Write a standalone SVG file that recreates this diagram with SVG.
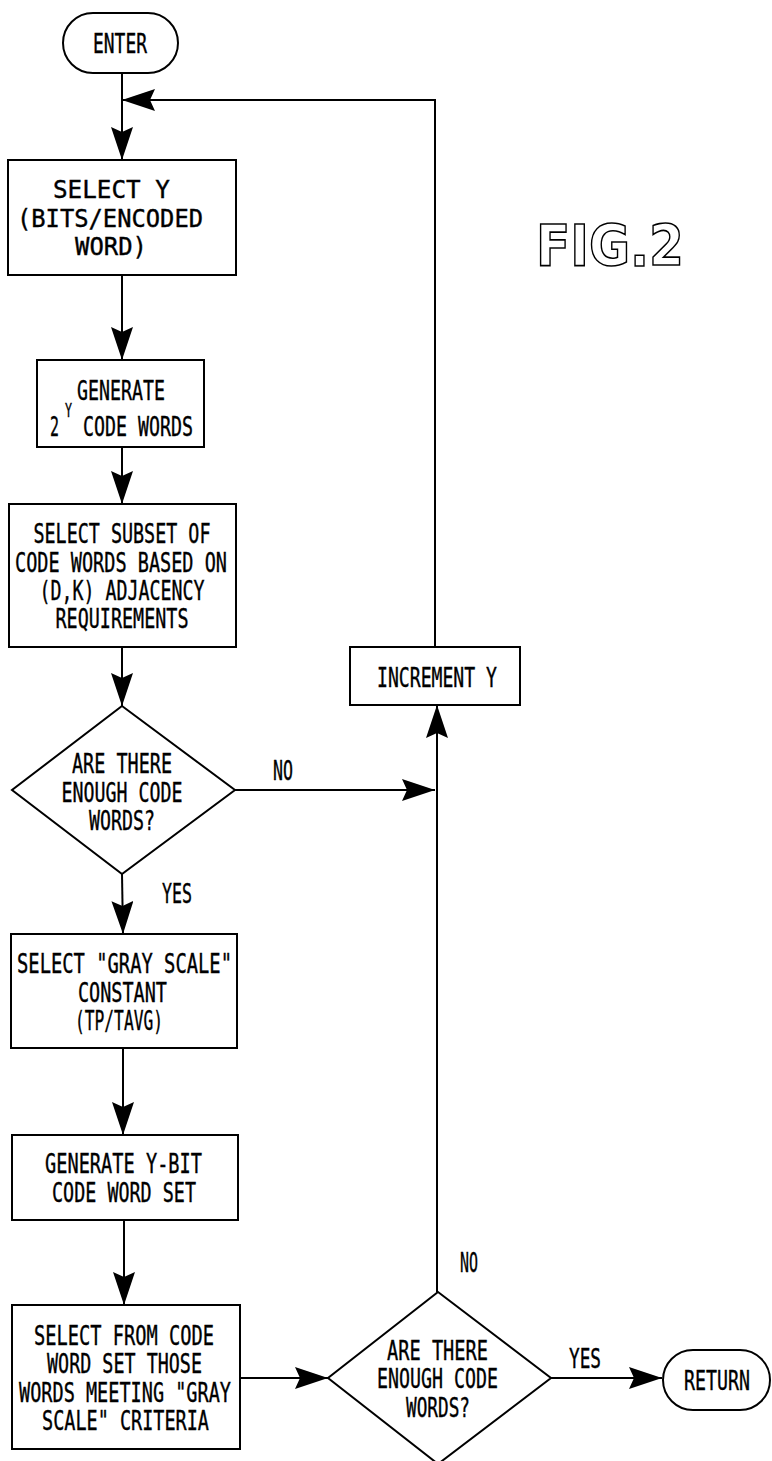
<svg xmlns="http://www.w3.org/2000/svg" width="772" height="1461" viewBox="0 0 772 1461">
<defs>
<style>
.s{fill:#fff;stroke:#000;stroke-width:2}
.c{fill:none;stroke:#000;stroke-width:2}
.t{font-family:"DejaVu Sans Mono","Liberation Mono",monospace;font-size:27px;fill:#000;stroke:#000;stroke-width:0.4;text-anchor:middle}
.ts{font-family:"DejaVu Sans Mono","Liberation Mono",monospace;font-size:27px;fill:#000;stroke:#000;stroke-width:0.4}
.fig{font-family:"DejaVu Sans","Liberation Sans",sans-serif;font-weight:bold;font-size:57px;fill:#fff;stroke:#000;stroke-width:1.6}
</style>
<marker id="ah" markerUnits="userSpaceOnUse" markerWidth="34" markerHeight="22" refX="33" refY="11" orient="auto">
<path d="M0,0 L33,11 L0,22 L5,11 z" fill="#000"/>
</marker>
</defs>
<rect width="772" height="1461" fill="#fff"/>
<g id="connectors">
<path class="c" d="M122,73 V160" marker-end="url(#ah)"/>
<path class="c" d="M435,647 V100 H122" marker-end="url(#ah)"/>
<path class="c" d="M122,275 V360" marker-end="url(#ah)"/>
<path class="c" d="M122,447 V504" marker-end="url(#ah)"/>
<path class="c" d="M122,647 V706" marker-end="url(#ah)"/>
<path class="c" d="M122,874 L123,934" marker-end="url(#ah)"/>
<path class="c" d="M235,790 H435" marker-end="url(#ah)"/>
<path class="c" d="M123,1048 V1135" marker-end="url(#ah)"/>
<path class="c" d="M124,1220 V1305" marker-end="url(#ah)"/>
<path class="c" d="M240,1378 H328" marker-end="url(#ah)"/>
<path class="c" d="M437,1292 V705" marker-end="url(#ah)"/>
<path class="c" d="M551,1378 H662" marker-end="url(#ah)"/>
</g>
<g id="labels">
<text class="t" x="283" y="780" textLength="20" lengthAdjust="spacingAndGlyphs">NO</text>
<text class="t" x="177" y="903" textLength="30" lengthAdjust="spacingAndGlyphs">YES</text>
<text class="t" x="469" y="1272" textLength="18" lengthAdjust="spacingAndGlyphs">NO</text>
<text class="t" x="585" y="1368" textLength="32" lengthAdjust="spacingAndGlyphs">YES</text>
</g>
<g id="enter">
<rect class="s" x="63" y="13" width="115" height="60" rx="30"/>
<text class="t" x="120" y="53" textLength="54" lengthAdjust="spacingAndGlyphs">ENTER</text>
</g>
<g id="selectY">
<rect class="s" x="8" y="160" width="228" height="115"/>
<text class="t" x="111.5" y="198" textLength="117" lengthAdjust="spacingAndGlyphs" style="font-size:25px">SELECT Y</text>
<text class="t" x="110" y="227" textLength="186" lengthAdjust="spacingAndGlyphs" style="font-size:25px">(BITS/ENCODED</text>
<text class="t" x="111" y="255" textLength="72" lengthAdjust="spacingAndGlyphs" style="font-size:25px">WORD)</text>
</g>
<g id="generate">
<rect class="s" x="37" y="360" width="167" height="87"/>
<text class="ts" x="77" y="400" textLength="88" lengthAdjust="spacingAndGlyphs">GENERATE</text>
<text class="ts" x="50" y="436" textLength="9" lengthAdjust="spacingAndGlyphs">2</text>
<text class="ts" x="65" y="417" style="font-size:20px" textLength="7" lengthAdjust="spacingAndGlyphs">Y</text>
<text class="ts" x="83" y="436" textLength="110" lengthAdjust="spacingAndGlyphs">CODE WORDS</text>
</g>
<g id="subset">
<rect class="s" x="9" y="504" width="227" height="143"/>
<text class="t" x="122" y="543" textLength="177" lengthAdjust="spacingAndGlyphs">SELECT SUBSET OF</text>
<text class="t" x="121" y="572" textLength="212" lengthAdjust="spacingAndGlyphs">CODE WORDS BASED ON</text>
<text class="t" x="122" y="600" textLength="165" lengthAdjust="spacingAndGlyphs">(D,K) ADJACENCY</text>
<text class="t" x="122" y="628" textLength="133" lengthAdjust="spacingAndGlyphs">REQUIREMENTS</text>
</g>
<g id="decision1">
<polygon class="s" points="122,706 235,790 122,874 12,790"/>
<text class="t" x="122" y="773" textLength="100" lengthAdjust="spacingAndGlyphs">ARE THERE</text>
<text class="t" x="122" y="802" textLength="121" lengthAdjust="spacingAndGlyphs">ENOUGH CODE</text>
<text class="t" x="122" y="830" textLength="66" lengthAdjust="spacingAndGlyphs">WORDS?</text>
</g>
<g id="increment">
<rect class="s" x="350" y="647" width="170" height="58"/>
<text class="t" x="437" y="687" textLength="120" lengthAdjust="spacingAndGlyphs">INCREMENT Y</text>
</g>
<g id="grayscale">
<rect class="s" x="11" y="934" width="226" height="114"/>
<text class="t" x="124.5" y="973" textLength="215" lengthAdjust="spacingAndGlyphs">SELECT "GRAY SCALE"</text>
<text class="t" x="122.5" y="1002" textLength="89" lengthAdjust="spacingAndGlyphs">CONSTANT</text>
<text class="t" x="119" y="1030" textLength="88" lengthAdjust="spacingAndGlyphs">(TP/TAVG)</text>
</g>
<g id="ybit">
<rect class="s" x="12" y="1135" width="226" height="85"/>
<text class="t" x="123.5" y="1173" textLength="157" lengthAdjust="spacingAndGlyphs">GENERATE Y-BIT</text>
<text class="t" x="124" y="1202" textLength="144" lengthAdjust="spacingAndGlyphs">CODE WORD SET</text>
</g>
<g id="selectFrom">
<rect class="s" x="12" y="1305" width="228" height="144"/>
<text class="t" x="124" y="1345" textLength="180" lengthAdjust="spacingAndGlyphs">SELECT FROM CODE</text>
<text class="t" x="124.5" y="1373" textLength="155" lengthAdjust="spacingAndGlyphs">WORD SET THOSE</text>
<text class="t" x="125" y="1402" textLength="212" lengthAdjust="spacingAndGlyphs">WORDS MEETING "GRAY</text>
<text class="t" x="125.5" y="1430" textLength="167" lengthAdjust="spacingAndGlyphs">SCALE" CRITERIA</text>
</g>
<g id="decision2">
<polygon class="s" points="438,1292 551,1378 438,1464 328,1378"/>
<text class="t" x="437.5" y="1360" textLength="101" lengthAdjust="spacingAndGlyphs">ARE THERE</text>
<text class="t" x="437.5" y="1388" textLength="121" lengthAdjust="spacingAndGlyphs">ENOUGH CODE</text>
<text class="t" x="438" y="1417" textLength="64" lengthAdjust="spacingAndGlyphs">WORDS?</text>
</g>
<g id="return">
<rect class="s" x="663" y="1350" width="107" height="60" rx="30"/>
<text class="t" x="717" y="1390" textLength="66" lengthAdjust="spacingAndGlyphs">RETURN</text>
</g>
<g id="figlabel">
<text class="fig" x="536" y="266" textLength="148" lengthAdjust="spacingAndGlyphs">FIG.2</text>
</g>
</svg>
